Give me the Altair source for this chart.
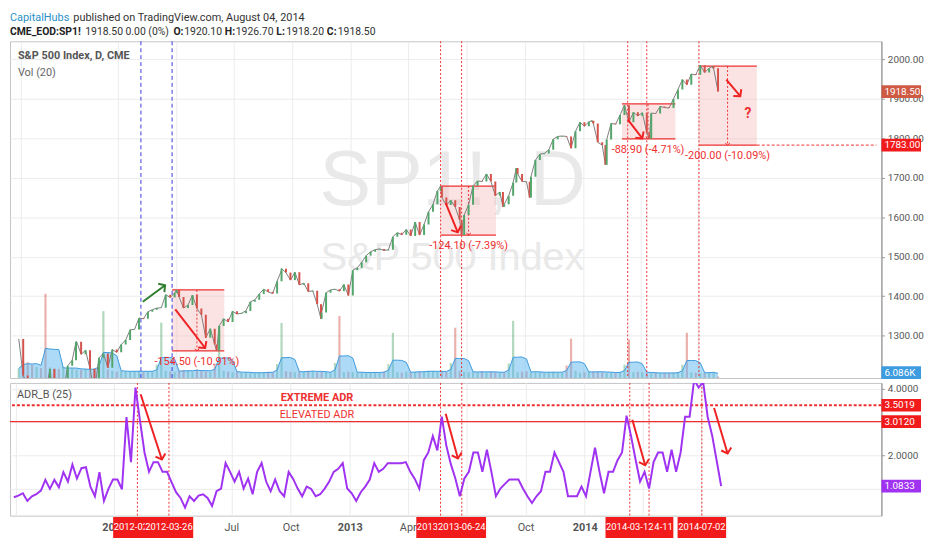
import altair as alt
import pandas as pd

W, H1, H2 = 880, 340, 134
FONT = "Roboto"
RED = "#ee3030"
BADGE_RED = "#f21b1b"
PURPLE = "#a032f2"
GREEN_C = "#53a66b"
RED_C = "#d4524a"

# ---------------- data ----------------
week_start = "2011-07-29"
close = [1292, 1199, 1179, 1124, 1177, 1174, 1154, 1216, 1136, 1131, 1155, 1224, 1238, 1285, 1253, 1263, 1216, 1159, 1244, 1255, 1219, 1265, 1258,
         1278, 1289, 1315, 1316, 1345, 1343, 1361, 1366, 1370, 1371, 1404, 1397, 1408, 1398, 1370, 1378, 1403, 1369, 1353, 1295, 1318, 1278, 1325, 1343, 1335, 1362,
         1355, 1357, 1363, 1386, 1391, 1406, 1418, 1411, 1407, 1438, 1466, 1460, 1441, 1461, 1429, 1433, 1412, 1414, 1380, 1359, 1409, 1416, 1418, 1413, 1430, 1402,
         1466, 1472, 1486, 1503, 1513, 1518, 1520, 1516, 1518, 1551, 1561, 1556, 1569, 1553, 1588, 1555, 1582, 1614, 1633, 1667, 1650, 1631, 1643, 1626, 1593, 1606,
         1632, 1680, 1692, 1691, 1710, 1691, 1655, 1664, 1633, 1655, 1688, 1710, 1691, 1690, 1703, 1745, 1760, 1762, 1771, 1798, 1805, 1806, 1805, 1775, 1818, 1841,
         1831, 1842, 1838, 1790, 1783, 1797, 1838, 1836, 1859, 1884, 1841, 1866, 1857, 1865, 1815, 1864, 1863, 1881, 1878, 1877, 1900, 1924, 1949, 1936, 1963, 1961,
         1985, 1967, 1978, 1978, 1918.5]
volume = [40, 72, 66, 55, 46, 42,
          350,
          44, 40, 38, 46, 42, 40, 36, 34, 38, 36, 40, 70,
          278,
          36, 30, 26, 30, 28, 26, 28, 30, 27, 26, 28, 55,
          230,
          30, 28, 26, 30, 34, 30, 28, 36, 30, 28, 26, 60,
          217,
          30, 26, 24, 26, 22, 24, 22, 20, 22, 24, 26, 24, 58,
          229,
          28, 26, 24, 28, 26, 30, 30, 24, 26, 24, 22, 62,
          258,
          24, 26, 24, 22, 24, 22, 24, 22, 24, 26, 58,
          188,
          24, 22, 26, 24, 26, 28, 26, 30, 28, 26, 28, 26, 62,
          209,
          28, 26, 24, 26, 24, 28, 24, 26, 24, 22, 24, 60,
          238,
          24, 26, 28, 24, 26, 24, 22, 24, 26, 24, 22, 52,
          164,
          30, 22, 24, 26, 28, 26, 24, 22, 24, 22, 24, 55,
          160,
          24, 26, 24, 22, 20, 22, 20, 22, 20, 22, 24, 55,
          188,
          24, 22, 20, 22, 24, 26, 6.086]
adr = [0.75, 0.80, 0.87, 0.64, 0.78, 0.84, 0.95, 1.27, 1.00, 1.27,
       1.05, 1.50, 1.22, 1.73, 1.31, 1.62, 1.65, 1.07, 0.78, 1.50,
       0.64, 1.00, 1.28, 1.28, 0.99, 3.15, 1.80, 4.03, 3.04, 2.09,
       1.51, 1.80, 1.80, 1.51, 1.51, 1.20, 0.90, 0.73, 0.44, 0.78,
       0.64, 0.80, 0.84, 0.73, 0.49, 0.93, 1.01, 1.77, 1.51, 1.22,
       1.51, 1.01, 1.31, 0.84, 1.51, 1.77, 1.22, 0.93, 1.28, 0.93,
       0.78, 1.51, 1.30, 1.01, 0.78, 1.07, 1.00, 0.78, 0.84, 1.01,
       1.22, 1.51, 1.60, 1.77, 1.01, 0.87, 0.64, 0.90, 1.07, 1.28,
       1.77, 1.51, 1.60, 1.77, 1.77, 1.77, 1.77, 1.80, 1.51, 1.30,
       1.01, 1.86, 2.09, 2.58, 2.15, 3.16, 2.29, 1.74, 1.31, 0.78,
       1.31, 1.51, 2.09, 2.09, 1.51, 2.17, 1.51, 0.78, 1.01, 1.15,
       1.28, 1.28, 1.28, 1.01, 0.78, 0.58, 0.78, 0.93, 1.51, 1.51,
       2.09, 1.80, 1.51, 0.78, 0.78, 0.78, 1.07, 0.78, 1.51, 2.23,
       1.51, 0.87, 1.51, 1.51, 1.86, 2.09, 3.19, 2.58, 1.88, 1.22,
       1.51, 1.01, 1.80, 2.09, 2.09, 1.51, 2.17, 1.51, 2.09, 3.16,
       3.16, 4.26, 4.03, 4.20, 3.16, 2.60, 1.85, 1.0833]
extra_dates = ["2011-10-27", "2012-04-02", "2012-06-04", "2012-09-14", "2012-11-15", "2013-05-22", "2013-06-24",
               "2013-08-28", "2013-09-18", "2013-10-09", "2014-01-15", "2014-02-05", "2014-04-15", "2014-07-24"]
extra_close = [1285, 1416, 1262, 1470, 1343, 1679, 1555, 1627, 1725, 1650, 1845, 1733, 1800, 1983]

assert len(close) == len(volume) == len(adr) == 158

blue_markers = ["2012-02-06", "2012-03-26"]
red_markers = ["2013-05-22", "2013-06-24", "2014-03-12", "2014-04-11", "2014-07-02"]
badge_order = ["2012-02-06", "2012-03-26", "2013-05-22", "2013-06-24", "2014-04-11", "2014-03-12", "2014-07-02"]

box_start = ["2012-03-26", "2013-05-22", "2014-03-03", "2014-07-02"]
box_end = ["2012-06-16", "2013-08-17", "2014-05-26", "2014-10-01"]
box_top = [1416.0, 1679.3, 1887.5, 1983.0]
box_bottom = [1261.5, 1555.2, 1798.6, 1783.0]
box_mid = ["2012-05-04", "2013-07-05", "2014-04-13", "2014-08-16"]
box_label = ["-154.50 (-10.91%)", "-124.10 (-7.39%)", "-88.90 (-4.71%)", "-200.00 (-10.09%)"]
target_end = "2015-04-07"

green_arrow = {"d1": ["2012-02-09"], "v1": [1386], "d2": ["2012-03-15"], "v2": [1428], "ang": [54]}
price_arrows = {"d1": ["2012-03-31", "2013-05-30", "2014-03-12", "2014-08-14"],
                "v1": [1367, 1636, 1848, 1949],
                "d2": ["2012-05-17", "2013-06-18", "2014-04-04", "2014-09-05"],
                "v2": [1269, 1562, 1800, 1907],
                "ang": [142, 157, 143, 140]}
adr_arrows = {"d1": ["2012-02-11", "2013-05-30", "2014-03-16", "2014-07-21"],
              "v1": [3.83, 3.25, 3.07, 3.42],
              "d2": ["2012-03-15", "2013-06-18", "2014-04-05", "2014-08-11"],
              "v2": [1.88, 1.91, 1.71, 2.06],
              "ang": [162, 164, 164, 163]}
extreme_adr, elevated_adr = 3.5019, 3.0120
last_price = close[-1]
question_date, question_price = "2014-09-17", 1861

# ---------------- frames ----------------
weeks = pd.date_range(week_start, periods=len(close), freq="7D")
px = pd.DataFrame({"date": list(weeks) + list(pd.to_datetime(extra_dates)),
                   "close": close + extra_close}).sort_values("date").reset_index(drop=True)
px["open"] = px["close"].shift(1).fillna(px["close"])
px["up"] = px["close"] >= px["open"]
px["date"] = px["date"].dt.strftime("%Y-%m-%d")

wk = pd.DataFrame({"date": weeks.strftime("%Y-%m-%d"), "vol": volume, "adr": adr, "close": close})
wk["up"] = wk["close"] >= wk["close"].shift(1).fillna(wk["close"])

boxes = pd.DataFrame({"start": box_start, "end": box_end, "top": box_top, "bottom": box_bottom,
                      "mid": box_mid, "label": box_label})

# ---------------- scales / axes ----------------
xs = alt.Scale(domain=[alt.DateTime(year=2011, month=7, date=23), alt.DateTime(year=2015, month=4, date=7)])
ps = alt.Scale(domain=[1193, 2046], nice=False, zero=False)
vs = alt.Scale(domain=[0, 1400], nice=False)
ads = alt.Scale(domain=[0.2, 4.17], nice=False, zero=False)
ticks = [alt.DateTime(year=2011, month=8, date=1)] + [
    alt.DateTime(year=y, month=m, date=1) for y in (2012, 2013, 2014) for m in (1, 4, 7, 10)
    if not (y == 2014 and m == 10)]

top_x_axis = alt.Axis(values=ticks, labels=False, ticks=False, domain=False, grid=True,
                      gridColor="#ececec", title=None)
bottom_x_axis = alt.Axis(
    values=ticks, grid=True, gridColor="#ececec", ticks=False, domain=False, title=None,
    labelExpr="(month(datum.value) == 7 && year(datum.value) == 2011) ? '' : (month(datum.value) == 0 ? timeFormat(datum.value, '%Y') : timeFormat(datum.value, '%b'))",
    labelColor="#555", labelFontSize=11, labelPadding=6, labelFont=FONT,
    labelFontWeight={"condition": {"test": "month(datum.value) == 0", "value": "bold"}, "value": "normal"})
price_axis = alt.Axis(orient="right", values=list(range(1300, 2001, 100)), format=".2f", grid=True,
                      gridColor="#ececec", tickSize=3, tickColor="#999", domainColor="#8a8a8a",
                      labelColor="#555", labelFontSize=10, labelPadding=3, labelFont=FONT, title=None)
adr_axis = alt.Axis(orient="right", values=[1, 2, 3, 4], format=".4f", grid=True, gridColor="#ececec",
                    tickSize=3, tickColor="#999", domainColor="#8a8a8a", labelColor="#555",
                    labelFontSize=10, labelPadding=3, labelFont=FONT, title=None)

RECT = "M-1,-0.32H1V0.32H-1Z"
RECT_DATE = "M-1,-0.43H1V0.43H-1Z"
CHEV = "M-1,0.9L0,0L1,0.9"


def XT(f):
    return alt.X(f"{f}:T", scale=xs, axis=top_x_axis, title=None)


def XB(f):
    return alt.X(f"{f}:T", scale=xs, axis=bottom_x_axis, title=None)


def YP(f):
    return alt.Y(f"{f}:Q", scale=ps, axis=price_axis, title=None)


def YV(f):
    return alt.Y(f"{f}:Q", scale=vs, axis=None, title=None)


def YA(f):
    return alt.Y(f"{f}:Q", scale=ads, axis=adr_axis, title=None)


def txt(text, x, y, size=11, color="#555", weight="normal", align="left", font=FONT):
    return alt.Chart(alt.Data(values=[{}])).mark_text(
        text=text, align=align, baseline="middle", fontSize=size, color=color,
        fontWeight=weight, font=font).encode(x=alt.value(x), y=alt.value(y))


def arrows(d, xfun, yfun, color, width=2):
    base = alt.Chart(pd.DataFrame(d))
    line = base.mark_rule(color=color, strokeWidth=width).encode(x=xfun("d1"), x2="d2", y=yfun("v1"), y2="v2")
    head = base.mark_point(shape=CHEV, size=110, filled=False, color=color, strokeWidth=width, opacity=1).encode(
        x=xfun("d2"), y=yfun("v2"), angle=alt.Angle("ang:Q", scale=None))
    return [line, head]


def right_badge(value, label, color, yfun, yoff=0):
    b = alt.Chart(pd.DataFrame({"v": [value], "t": [label]}))
    return [b.mark_point(shape=RECT, size=1600, filled=True, color=color, opacity=1, yOffset=yoff).encode(
                x=alt.value(W + 20), y=yfun("v")),
            b.mark_text(align="left", baseline="middle", color="white", fontSize=10, font=FONT, yOffset=yoff).encode(
                x=alt.value(W + 3), y=yfun("v"), text="t:N")]


# ---------------- top pane ----------------
wm1 = txt("SP1!, D", 447, 142, size=78, color="#e9e9e9", align="center", font="Liberation Sans")
wm2 = txt("S&P 500 Index", 447, 219, size=40, color="#e9e9e9", align="center", font="Liberation Sans")

vol_bars = alt.Chart(wk).mark_bar(size=2.2, opacity=0.45).encode(
    x=XT("date"), y=YV("vol"),
    color=alt.condition("datum.up", alt.value(GREEN_C), alt.value(RED_C)))
vol_ma = alt.Chart(wk).transform_window(ma="mean(vol)", frame=[-3, 0], sort=[alt.SortField("date")]).mark_area(
    color="#5cb6ee", opacity=0.5, line={"color": "#3d9be0", "strokeWidth": 1}).encode(
    x=XT("date"), y=YV("ma"))
vol_layer = alt.layer(vol_bars, vol_ma, *right_badge(volume[-1], f"{volume[-1]:.3f}K", "#3d9be0", YV, yoff=-4))

bx = alt.Chart(boxes)
box_rect = bx.mark_rect(color="#f7bcbc", opacity=0.42).encode(x=XT("start"), x2="end", y=YP("top"), y2="bottom")
box_top_l = bx.mark_rule(color=RED, strokeWidth=1.3).encode(x=XT("start"), x2="end", y=YP("top"))
box_bot_l = bx.mark_rule(color=RED, strokeWidth=1.3).encode(x=XT("start"), x2="end", y=YP("bottom"))
box_mid_l = bx.mark_rule(color=RED, strokeWidth=1, strokeDash=[2, 2]).encode(x=XT("mid"), y=YP("top"), y2="bottom")
box_mid_h = bx.mark_point(shape=CHEV, size=22, filled=False, color=RED, strokeWidth=1, angle=180, opacity=1).encode(
    x=XT("mid"), y=YP("bottom"))
box_text = bx.mark_text(dy=11, fontSize=11, color=RED, font=FONT).encode(x=XT("mid"), y=YP("bottom"), text="label:N")
ext = alt.Chart(pd.DataFrame({"a": [box_end[-1]], "b": [target_end], "v": [box_bottom[-1]]})).mark_rule(
    color=RED, strokeWidth=1, strokeDash=[3, 2]).encode(x=XT("a"), x2="b", y=YP("v"))
qmark = alt.Chart(pd.DataFrame({"d": [question_date], "v": [question_price]})).mark_text(
    text="?", fontSize=14, fontWeight="bold", color=RED, font=FONT).encode(x=XT("d"), y=YP("v"))

vblue = alt.Chart(pd.DataFrame({"d": blue_markers})).mark_rule(color="#3b3bdc", strokeWidth=1, strokeDash=[4, 3]).encode(x=XT("d"))
vred_top = alt.Chart(pd.DataFrame({"d": red_markers})).mark_rule(color=RED, strokeWidth=1, strokeDash=[2, 2]).encode(x=XT("d"))

pline = alt.Chart(px).mark_line(color="#7d7d7d", strokeWidth=1, clip=True).encode(x=XT("date"), y=YP("close"))
candles = alt.Chart(px).mark_bar(size=2, clip=True).encode(
    x=XT("date"), y=YP("open"), y2="close",
    color=alt.condition("datum.up", alt.value(GREEN_C), alt.value(RED_C)))

price_layer = alt.layer(
    box_rect, vblue, vred_top, box_top_l, box_bot_l, ext, box_mid_l, box_mid_h, pline, candles,
    *arrows(green_arrow, XT, YP, "#2f7d2f"), *arrows(price_arrows, XT, YP, "#ee2222"),
    box_text, qmark,
    *right_badge(box_bottom[-1], f"{box_bottom[-1]:.2f}", BADGE_RED, YP),
    *right_badge(last_price, f"{last_price:.2f}", "#cf5a44", YP),
)

HS = 10.5
header = [
    txt("CapitalHubs", 0, -24, size=11, color="#2b8fc8"),
    txt("published on TradingView.com, August 04, 2014", 64, -24, size=11, color="#333"),
    txt("CME_EOD:SP1!", 0, -9, size=HS, color="#222", weight="bold"),
    txt("1918.50 0.00 (0%)", 76, -9, size=HS, color="#333"),
    txt("O:", 165, -9, size=HS, color="#222", weight="bold"),
    txt("1920.10", 176, -9, size=HS, color="#333"),
    txt("H:", 217, -9, size=HS, color="#222", weight="bold"),
    txt("1926.70", 228, -9, size=HS, color="#333"),
    txt("L:", 269, -9, size=HS, color="#222", weight="bold"),
    txt("1918.20", 279, -9, size=HS, color="#333"),
    txt("C:", 320, -9, size=HS, color="#222", weight="bold"),
    txt("1918.50", 331, -9, size=HS, color="#333"),
    txt("S&P 500 Index, D, CME", 8, 15, size=11, color="#555", weight="bold"),
    txt("Vol (20)", 8, 32, size=11, color="#666"),
]

top = alt.layer(wm1, wm2, vol_layer, price_layer, *header).resolve_scale(y="independent").properties(
    width=W, height=H1)

# ---------------- bottom pane ----------------
vred_bot = alt.Chart(pd.DataFrame({"d": blue_markers + red_markers})).mark_rule(
    color=RED, strokeWidth=1, strokeDash=[2, 2]).encode(x=XB("d"))
lv = alt.Chart(pd.DataFrame({"v": [extreme_adr]})).mark_rule(color=RED, strokeWidth=2, strokeDash=[3, 2]).encode(y=YA("v"))
le = alt.Chart(pd.DataFrame({"v": [elevated_adr]})).mark_rule(color=RED, strokeWidth=1.2).encode(y=YA("v"))
lbl = alt.Chart(pd.DataFrame({"d": ["2012-11-11", "2012-11-11"], "v": [extreme_adr, elevated_adr],
                              "t": ["EXTREME ADR", "ELEVATED ADR"], "b": [True, False]}))
lbl_ext = lbl.transform_filter("datum.b").mark_text(dy=-7, fontSize=11, fontWeight="bold", color=RED, font=FONT).encode(
    x=XB("d"), y=YA("v"), text="t:N")
lbl_elv = lbl.transform_filter("!datum.b").mark_text(dy=-7, fontSize=11, color=RED, font=FONT).encode(
    x=XB("d"), y=YA("v"), text="t:N")
adr_line = alt.Chart(wk).mark_line(color=PURPLE, strokeWidth=2, clip=True).encode(x=XB("date"), y=YA("adr"))

date_badges = []
bd = alt.Chart(pd.DataFrame({"d": badge_order, "t": badge_order, "k": list(range(len(badge_order)))}))
for k in range(len(badge_order)):
    sub = bd.transform_filter(f"datum.k == {k}")
    date_badges.append(sub.mark_point(shape=RECT_DATE, size=2401, filled=True, color=BADGE_RED, opacity=1).encode(
        x=XB("d"), y=alt.value(H2 + 12)))
    date_badges.append(sub.mark_text(color="white", fontSize=9.5, font=FONT, baseline="middle").encode(
        x=XB("d"), y=alt.value(H2 + 12), text="t:N"))

bottom = alt.layer(
    vred_bot, lv, le, adr_line, *arrows(adr_arrows, XB, YA, "#ee2222"), lbl_ext, lbl_elv,
    txt("ADR_B (25)", 7, 12, size=11, color="#555"),
    *right_badge(extreme_adr, f"{extreme_adr:.4f}", BADGE_RED, YA),
    *right_badge(elevated_adr, f"{elevated_adr:.4f}", BADGE_RED, YA),
    *right_badge(adr[-1], f"{adr[-1]:.4f}", PURPLE, YA),
    *date_badges,
).properties(width=W, height=H2)

chart = alt.vconcat(top, bottom, spacing=2).properties(
    padding={"left": 0, "top": 0, "right": 0, "bottom": 0}, background="white"
).configure_view(stroke="#c4c4c4")

chart.save("out.html", embed_options={"renderer": "svg", "actions": False})
